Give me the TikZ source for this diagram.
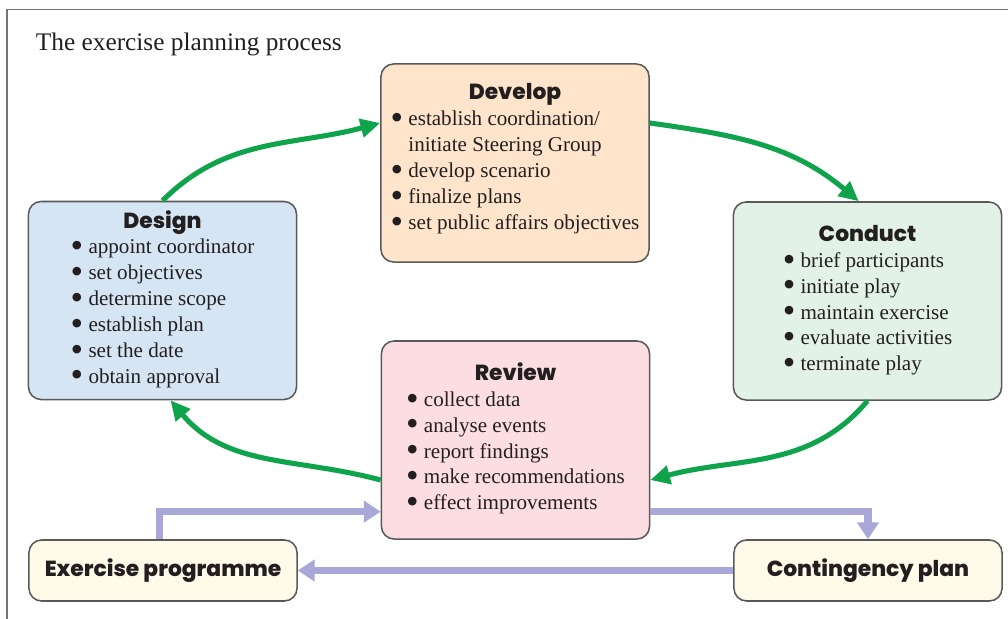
\documentclass[tikz,border=0pt]{standalone}
\usepackage{fontspec}
\setmainfont{Liberation Serif}
\IfFontExistsTF{Poppins ExtraBold}
  {\newfontfamily\headfont{Poppins ExtraBold}}
  {\newfontfamily\headfont{Poppins}[UprightFont={* Bold}]}
\usetikzlibrary{arrows.meta, positioning}

\definecolor{devfill}{HTML}{FDE4CB}
\definecolor{desfill}{HTML}{D6E5F4}
\definecolor{confill}{HTML}{E2F2E6}
\definecolor{revfill}{HTML}{FCDEE2}
\definecolor{outfill}{HTML}{FFFBE8}
\definecolor{cyclegreen}{HTML}{0FA44B}
\definecolor{feedlilac}{HTML}{A9A7D7}
\definecolor{inkdark}{HTML}{231F20}

\tikzset{
  phase/.style={draw=black!65, line width=1.1pt, rounded corners=9pt,
    minimum width=6.7cm, minimum height=4.95cm, inner sep=0pt,
    text=inkdark, font=\fontsize{15}{18.4}\selectfont},
  outbox/.style={draw=black!65, line width=1.1pt, rounded corners=9pt,
    fill=outfill, minimum width=6.7cm, minimum height=1.525cm, inner sep=0pt,
    text=inkdark, font=\headfont\fontsize{15.5}{19}\selectfont},
  cyclearrow/.style={draw=cyclegreen, line width=3.6pt,
    -{Triangle[length=14pt,width=13pt]}},
  feedarrow/.style={draw=feedlilac, line width=5pt,
    -{Triangle[length=12pt,width=15pt]}},
}
\newcommand{\phasetitle}[1]{\multicolumn{1}{c}{\headfont\fontsize{15.5}{18.4}\selectfont #1}}
\newcommand{\pt}{\smash{\raisebox{-2.6pt}{\scalebox{1.7}{\textbullet}}}\ }

\begin{document}
\begin{tikzpicture}[x=0.025cm, y=-0.025cm]
  \useasboundingbox (0,0) rectangle (1008,619);

  % frame and title
  \draw[black!55, line width=1.2pt] (7,619) -- (7,9.5) -- (1008,9.5);
  \node[anchor=base west, text=inkdark, font=\fontsize{18}{21}\selectfont] (title) at (31,50) {The exercise planning process};

  % the four phases
  \node[phase, fill=devfill] (develop) at (515,163) {\begin{tabular}{@{}l@{}}
    \phasetitle{Develop}\\
    \pt establish coordination/\\
    \phantom{\pt}initiate Steering Group\\
    \pt develop scenario\\
    \pt finalize plans\\
    \pt set public affairs objectives\\[5pt]
  \end{tabular}};
  \node[phase, fill=desfill] (design) at (162.5,300.5) {\begin{tabular}{@{}l@{}}
    \phasetitle{Design}\\
    \pt appoint coordinator\\
    \pt set objectives\\
    \pt determine scope\\
    \pt establish plan\\
    \pt set the date\\
    \pt obtain approval
  \end{tabular}};
  \node[phase, fill=confill] (conduct) at (867.5,301) {\begin{tabular}{@{}l@{}}
    \phasetitle{Conduct}\\
    \pt brief participants\\
    \pt initiate play\\
    \pt maintain exercise\\
    \pt evaluate activities\\
    \pt terminate play
  \end{tabular}};
  \node[phase, fill=revfill] (review) at (515.5,440) {\begin{tabular}{@{}l@{}}
    \phasetitle{Review}\\
    \pt collect data\\
    \pt analyse events\\
    \pt report findings\\
    \pt make recommendations\\
    \pt effect improvements
  \end{tabular}};

  % outputs
  \node[outbox] (exprog) at (163,570.5) {Exercise programme};
  \node[outbox] (contingency) at (868,570.5) {Contingency plan};

  % planning cycle
  \draw[cyclearrow] (design.north) to[out=45, in=195] ([yshift=1cm]develop.west);
  \draw[cyclearrow] ([yshift=1cm]develop.east) to[out=-8, in=140] ([xshift=-0.22cm]conduct.north);
  \draw[cyclearrow] (conduct.south) to[out=-130, in=15] ([yshift=-1cm]review.east);
  \draw[cyclearrow] ([yshift=-1cm]review.west) to[out=165, in=-50] ([xshift=0.2cm]design.south);

  % feedback loop
  \draw[feedarrow] ([xshift=-0.08cm]exprog.north) |- ([yshift=-1.79cm]review.west);
  \draw[feedarrow] ([yshift=-1.79cm]review.east) -| (contingency.north);
  \draw[feedarrow] (contingency.west) -- (exprog.east);
\end{tikzpicture}
\end{document}
